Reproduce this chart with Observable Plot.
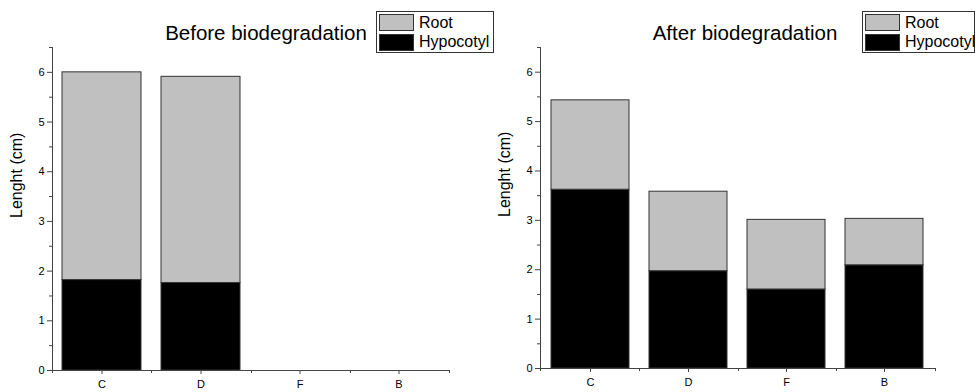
<!DOCTYPE html>
<html>
<head>
<meta charset="utf-8">
<script src="https://cdn.jsdelivr.net/npm/d3@7"></script>
<script src="https://cdn.jsdelivr.net/npm/@observablehq/plot@0.6"></script>
<style>
  html, body { margin: 0; padding: 0; background: #fff; }
  #wrap { position: relative; width: 976px; height: 392px; overflow: hidden; font-family: "Liberation Sans", Arial, sans-serif; color: #000; }
  .panel { position: absolute; top: 0; }
  .title { position: absolute; font-size: 20.5px; line-height: 20px; white-space: nowrap; transform: translateX(-50%); }
  .legend { position: absolute; border: 1px solid #333; box-sizing: border-box; background: #fff; }
  .sw { position: absolute; left: 2px; width: 35px; height: 17px; box-sizing: border-box; border: 1px solid #333; }
  .lt { position: absolute; left: 42px; font-size: 16px; line-height: 16px; white-space: nowrap; }
</style>
</head>
<body>
<div id="wrap"></div>
<script>
const categories = ["C", "D", "F", "B"];
const series = ["Hypocotyl", "Root"];
const legendOrder = ["Root", "Hypocotyl"];
const beforeHypocotyl = [1.82, 1.76, 0, 0];
const beforeRoot = [4.18, 4.15, 0, 0];
const afterHypocotyl = [3.62, 1.97, 1.60, 2.09];
const afterRoot = [1.81, 1.61, 1.41, 0.94];
const yTicks = [0, 1, 2, 3, 4, 5, 6];
const yMinorTicks = [0.5, 1.5, 2.5, 3.5, 4.5, 5.5, 6.5];
const yMax = 6.5;
const titles = ["Before biodegradation", "After biodegradation"];
const yLabel = "Lenght (cm)";
const colors = {Hypocotyl: "#000000", Root: "#c0c0c0"};

function toRows(hyp, root) {
  const rows = [];
  categories.forEach((c, i) => {
    rows.push({cat: c, series: "Hypocotyl", value: hyp[i]});
    rows.push({cat: c, series: "Root", value: root[i]});
  });
  return rows;
}

function axisLines(index, scales, values, dimensions) {
  const {y} = scales;
  const {marginLeft, marginRight, width} = dimensions;
  const g = d3.create("svg:g").attr("stroke", "#444").attr("stroke-width", 1).attr("fill", "none");
  const y0 = y(0);
  g.append("line").attr("x1", marginLeft + 0.5).attr("x2", marginLeft + 0.5).attr("y1", y(yMax)).attr("y2", y0 + 3);
  const step = (width - marginLeft - marginRight) / categories.length;
  for (let i = 1; i <= categories.length; i++) {
    const xb = Math.round(marginLeft + i * step) + 0.5;
    g.append("line").attr("x1", xb).attr("x2", xb).attr("y1", y0).attr("y2", y0 + 3);
  }
  return g.node();
}

function panel(rows, mr, mb) {
  return Plot.plot({
    width: 488,
    height: 392,
    marginLeft: 52,
    marginRight: mr,
    marginTop: 47,
    marginBottom: mb,
    x: {domain: categories, paddingInner: 0.2, paddingOuter: 0.1, label: null},
    y: {domain: [0, yMax], label: null},
    color: {domain: series, range: series.map(s => colors[s])},
    style: {fontFamily: "'Liberation Sans', Arial, sans-serif", fontSize: "11px", color: "#000", background: "transparent", overflow: "visible"},
    marks: [
      Plot.barY(rows, {x: "cat", y: "value", fill: "series", stroke: "#333", strokeWidth: 1, order: series}),
      Plot.ruleY([0], {stroke: "#444"}),
      Plot.axisY({ticks: yTicks, tickFormat: d3.format("d"), tickSize: 5, tickPadding: 3, label: null, stroke: "#444", fill: "#000"}),
      Plot.axisY({ticks: yMinorTicks, tickSize: 3, text: null, label: null, stroke: "#444"}),
      Plot.axisX({tickSize: 4, tickPadding: 6, label: null, stroke: "#444", fill: "#000"}),
      Plot.text([yLabel], {frameAnchor: "left", rotate: -90, dx: -36, dy: 9, fontSize: 16, fill: "#000"}),
      axisLines
    ]
  });
}

const wrap = document.getElementById("wrap");
const specs = [
  {rows: toRows(beforeHypocotyl, beforeRoot), left: 0, mr: 39, mb: 22, titleX: 266, legendLeft: 376, legendW: 118},
  {rows: toRows(afterHypocotyl, afterRoot), left: 488, mr: 41, mb: 24, titleX: 745, legendLeft: 862, legendW: 113}
];
specs.forEach((s, i) => {
  const div = document.createElement("div");
  div.className = "panel";
  div.style.left = s.left + "px";
  div.appendChild(panel(s.rows, s.mr, s.mb));
  wrap.appendChild(div);

  const t = document.createElement("div");
  t.className = "title";
  t.style.left = s.titleX + "px";
  t.style.top = "23px";
  t.textContent = titles[i];
  wrap.appendChild(t);

  const lg = document.createElement("div");
  lg.className = "legend";
  lg.style.left = s.legendLeft + "px";
  lg.style.top = "11px";
  lg.style.width = s.legendW + "px";
  lg.style.height = "42px";
  legendOrder.forEach((name, j) => {
    const sw = document.createElement("div");
    sw.className = "sw";
    sw.style.top = (2 + j * 19.5) + "px";
    sw.style.background = colors[name];
    lg.appendChild(sw);
    const lt = document.createElement("div");
    lt.className = "lt";
    lt.style.top = (3.3 + j * 18.4) + "px";
    lt.textContent = name;
    lg.appendChild(lt);
  });
  wrap.appendChild(lg);
});
</script>
</body>
</html>
